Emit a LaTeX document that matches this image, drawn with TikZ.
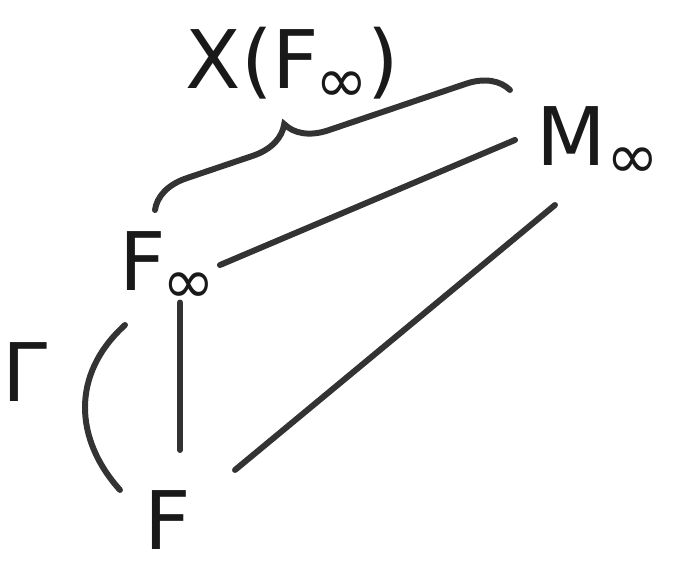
\documentclass[tikz,border=0pt]{standalone}
\usepackage{fontspec}
\setmainfont{DejaVu Sans}
\usepackage{tikz}
\usetikzlibrary{positioning,decorations.pathreplacing,calc}

\newcommand{\infsub}{{\fontsize{36}{36}\selectfont\raisebox{-0.22em}{∞}}}

\begin{document}
\begin{tikzpicture}[
    field/.style={
        font=\fontsize{46}{52}\selectfont,
        text=black!90,
        inner sep=0pt
    },
    tag/.style={
        font=\fontsize{46}{52}\selectfont,
        text=black!90
    },
    stroke/.style={
        draw=black!80, line width=3.4pt, line cap=round
    }
]

\useasboundingbox (0,0) rectangle (13.5,11.4);

\node[field] (f)    at (3.35, 1.0)  {F};
\node[field] (finf) at (3.35, 6.05) {F\kern-0.05em\infsub};
\node[field] (minf) at (11.95, 8.55) {M\infsub};

\node[tag] (gam) at (0.5, 3.95) {Γ};
\node[tag] (xf)  at (5.85, 10.1) {X(F\kern-0.05em\infsub)};

% lattice lines
\draw[stroke] (3.6, 5.35) -- (3.6, 2.4);
\draw[stroke] (4.4, 6.1) -- (10.3, 8.6);
\draw[stroke] (4.7, 2.0) -- (11.1, 7.3);

% Galois group arc
\draw[stroke] (2.5, 4.9) .. controls (1.4, 3.9) and (1.5, 2.6) .. (2.4, 1.6);

% brace over F_inf -- M_inf
\draw[stroke, decorate, decoration={brace, amplitude=0.8cm, aspect=0.4}]
    (3.1, 7.2) -- (10.2, 9.6);

\end{tikzpicture}
\end{document}
